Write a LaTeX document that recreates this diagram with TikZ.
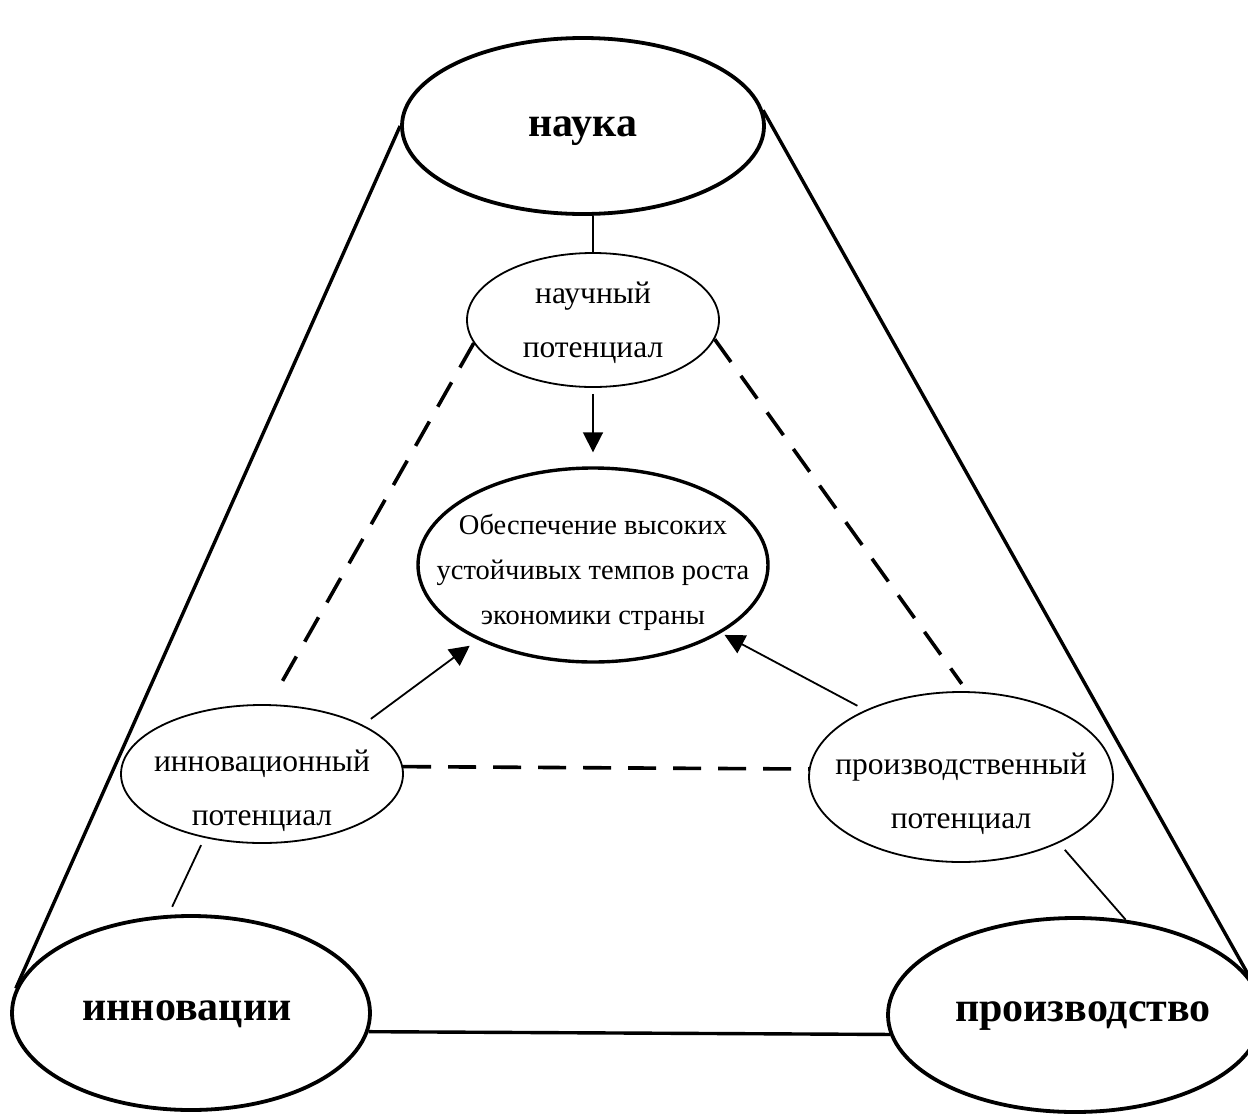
\documentclass[tikz,border=0pt]{standalone}
\usepackage{fontspec}
\setmainfont{Liberation Serif}
\usetikzlibrary{shapes.geometric,arrows.meta}
\begin{document}
\begin{tikzpicture}[x=1pt,y=-1pt,
  bigell/.style={ellipse,draw,line width=3.8pt,inner sep=0pt},
  smallell/.style={ellipse,draw,line width=1.8pt,inner sep=0pt},
  bigtext/.style={font=\fontsize{42}{50}\selectfont\bfseries},
  pottext/.style={font=\fontsize{31.5}{54}\selectfont,align=center},
  midtext/.style={font=\fontsize{28.5}{45}\selectfont,align=center},
  frame/.style={line width=3.4pt},
  thinline/.style={line width=1.8pt},
  dashline/.style={line width=3.6pt,dash pattern=on 28pt off 17pt},
  arrowline/.style={line width=1.8pt,-{Triangle[length=20pt,width=20pt]}}
]
\useasboundingbox (0,0) rectangle (1248,1114);
\clip (0,0) rectangle (1248,1114);
\fill[white] (0,0) rectangle (1248,1114);

\node[bigell,minimum width=362pt,minimum height=176pt,label={[bigtext,yshift=-5pt]center:наука}] (nauka) at (583,126) {};
\node[smallell,minimum width=252pt,minimum height=134pt,label={[pottext,yshift=-3pt]center:{научный\\потенциал}}] (np) at (593,320) {};
\node[bigell,line width=3.4pt,minimum width=350pt,minimum height=194pt,label={[midtext,yshift=-7pt]center:{Обеспечение высоких\\устойчивых темпов роста\\экономики страны}}] (ctr) at (593,565) {};
\node[smallell,minimum width=282pt,minimum height=138pt,label={[pottext,yshift=-17pt]center:{инновационный\\потенциал}}] (innp) at (262,774) {};
\node[smallell,minimum width=304pt,minimum height=170pt,label={[pottext,yshift=-17pt]center:{производственный\\потенциал}}] (pp) at (961,777) {};
\node[bigell,minimum width=358pt,minimum height=194pt,label={[bigtext,yshift=-1pt,xshift=-4pt]center:инновации}] (innov) at (191,1013) {};
\node[bigell,minimum width=374pt,minimum height=194pt,label={[bigtext,yshift=-1pt,xshift=8pt]center:производство}] (proizv) at (1075,1015) {};

% outer frame
\draw[frame] (nauka.west) -- (innov.172);
\draw[frame] (nauka.5) -- (proizv.12.5);
\draw[frame] (innov.-6.5) -- (proizv.186.2);

% links
\draw[thinline] (np.north) -- (np.north |- nauka.south);
\draw[thinline,shorten <=8pt,shorten >=9pt] (innp.228) -- (innov.103);
\draw[thinline,shorten <=9pt] (pp.-34.3) -- (proizv.62.2);

% arrows
\draw[arrowline,shorten <=6pt,shorten >=14pt] (np.south) -- (ctr.north);
\draw[arrowline,shorten <=10pt,shorten >=10pt] (innp.26) -- (ctr.213);
\draw[arrowline,shorten <=9pt,shorten >=4pt] (pp.145) -- (ctr.-28);

% dashed
\draw[dashline,shorten >=15pt] (np.191.6) -- (innp.84);
\draw[dashline,shorten >=9pt] (np.-9) -- (pp.86);
\draw[dashline] (innp.3) -- (pp.177);
\end{tikzpicture}
\end{document}
